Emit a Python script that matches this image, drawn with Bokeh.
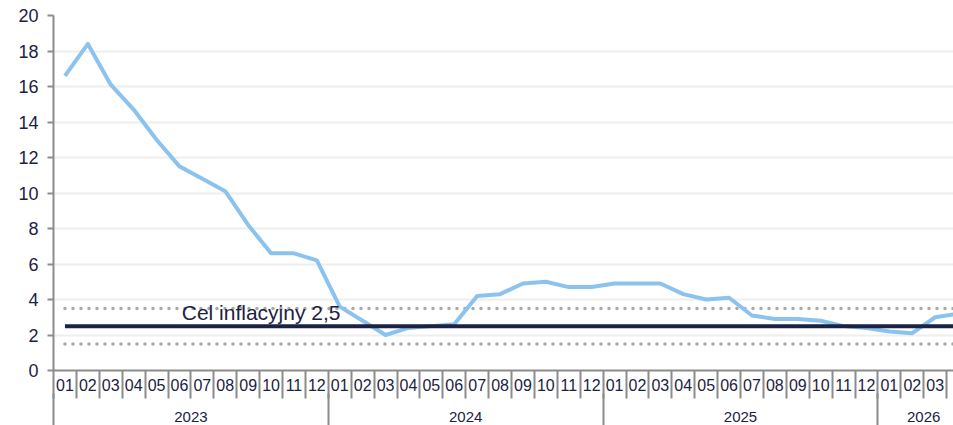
from bokeh.plotting import figure
from bokeh.models import Range1d, FixedTicker, LinearAxis, Label
from bokeh.embed import file_html
from bokeh.resources import INLINE
import numpy as np

# ---- data ----
years = ["2023", "2024", "2025", "2026"]
months_per_year = [12, 12, 12, 4]
month_labels = ["01", "02", "03", "04", "05", "06", "07", "08", "09", "10", "11", "12",
                "01", "02", "03", "04", "05", "06", "07", "08", "09", "10", "11", "12",
                "01", "02", "03", "04", "05", "06", "07", "08", "09", "10", "11", "12",
                "01", "02", "03", "04"]
cpi = [16.6, 18.4, 16.1, 14.7, 13.0, 11.5, 10.8, 10.1, 8.2, 6.6, 6.6, 6.2,
       3.6, 2.8, 2.0, 2.4, 2.5, 2.6, 4.2, 4.3, 4.9, 5.0, 4.7, 4.7,
       4.9, 4.9, 4.9, 4.3, 4.0, 4.1, 3.1, 2.9, 2.9, 2.8, 2.5, 2.4,
       2.2, 2.1, 3.0, 3.2]
target = 2.5
band_low = 1.5
band_high = 3.5
y_ticks = [0, 2, 4, 6, 8, 10, 12, 14, 16, 18, 20]

# ---- derived positions ----
n = len(cpi)
xc = [float(i) + 0.5 for i in range(n)]
bounds = [0] + [int(v) for v in np.cumsum(months_per_year)]
year_centers = [float(bounds[i] + months_per_year[i] / 2) for i in range(len(years))]

NAVY = "#1c2241"
BLUE = "#8cc3ee"
AXIS = "#8c8c8c"
DOT = "#a8a8a8"
FONT = "Liberation Sans"

p = figure(width=953, height=425,
           x_range=Range1d(0, 39.3), y_range=Range1d(0, 20),
           output_backend="svg", toolbar_location=None,
           x_axis_type=None,
           min_border_left=53, min_border_right=0, min_border_top=15, min_border_bottom=55)
p.outline_line_color = None
p.background_fill_color = "white"
p.border_fill_color = "white"

# y axis
ya = p.yaxis[0]
ya.ticker = FixedTicker(ticks=y_ticks)
ya.minor_tick_line_color = None
ya.axis_line_color = AXIS
ya.axis_line_width = 2
ya.major_tick_line_color = AXIS
ya.major_tick_line_width = 2
ya.major_tick_out = 6
ya.major_tick_in = 0
ya.major_label_standoff = 9
ya.major_label_text_font = FONT
ya.major_label_text_font_size = "18px"
ya.major_label_text_color = NAVY

p.ygrid.ticker = FixedTicker(ticks=y_ticks)
p.ygrid.grid_line_color = "#eeeeee"
p.ygrid.grid_line_width = 2

# month axis
ax_m = LinearAxis(
    ticker=FixedTicker(ticks=xc, minor_ticks=list(range(0, n + 1))),
    major_label_overrides={x: lab for x, lab in zip(xc, month_labels)},
    axis_line_color=AXIS, axis_line_width=2,
    major_tick_out=0, major_tick_in=0, major_tick_line_color=None,
    minor_tick_out=28, minor_tick_in=0, minor_tick_line_color=AXIS, minor_tick_line_width=2,
    major_label_standoff=-20,
    major_label_text_font=FONT, major_label_text_font_size="16px",
    major_label_text_color=NAVY,
)
p.add_layout(ax_m, "below")

# year axis (labels + separators)
ax_y = LinearAxis(
    ticker=FixedTicker(ticks=year_centers, minor_ticks=[float(b) for b in bounds]),
    major_label_overrides={x: lab for x, lab in zip(year_centers, years)},
    axis_line_color=None,
    major_tick_out=0, major_tick_in=0, major_tick_line_color=None,
    minor_tick_out=36, minor_tick_in=0, minor_tick_line_color=AXIS, minor_tick_line_width=2,
    major_label_standoff=-18,
    major_label_text_font=FONT, major_label_text_font_size="15px",
    major_label_text_color=NAVY,
)
p.add_layout(ax_y, "below")

# band lines (dotted)
for lvl in (band_high, band_low):
    p.line(xc, [lvl] * n, line_color=DOT, line_width=3.5, line_dash="0 8", line_cap="round")

# CPI line
p.line(xc, cpi, line_color=BLUE, line_width=4, line_join="round")

# target line
p.line(xc, [target] * n, line_color=NAVY, line_width=4)

p.add_layout(Label(x=5.6, y=target, y_offset=14,
                   text="Cel inflacyjny " + str(target).replace(".", ","),
                   text_font=FONT, text_font_size="21px", text_color=NAVY,
                   text_baseline="alphabetic"))

open("out.html", "w").write(file_html(p, INLINE))
